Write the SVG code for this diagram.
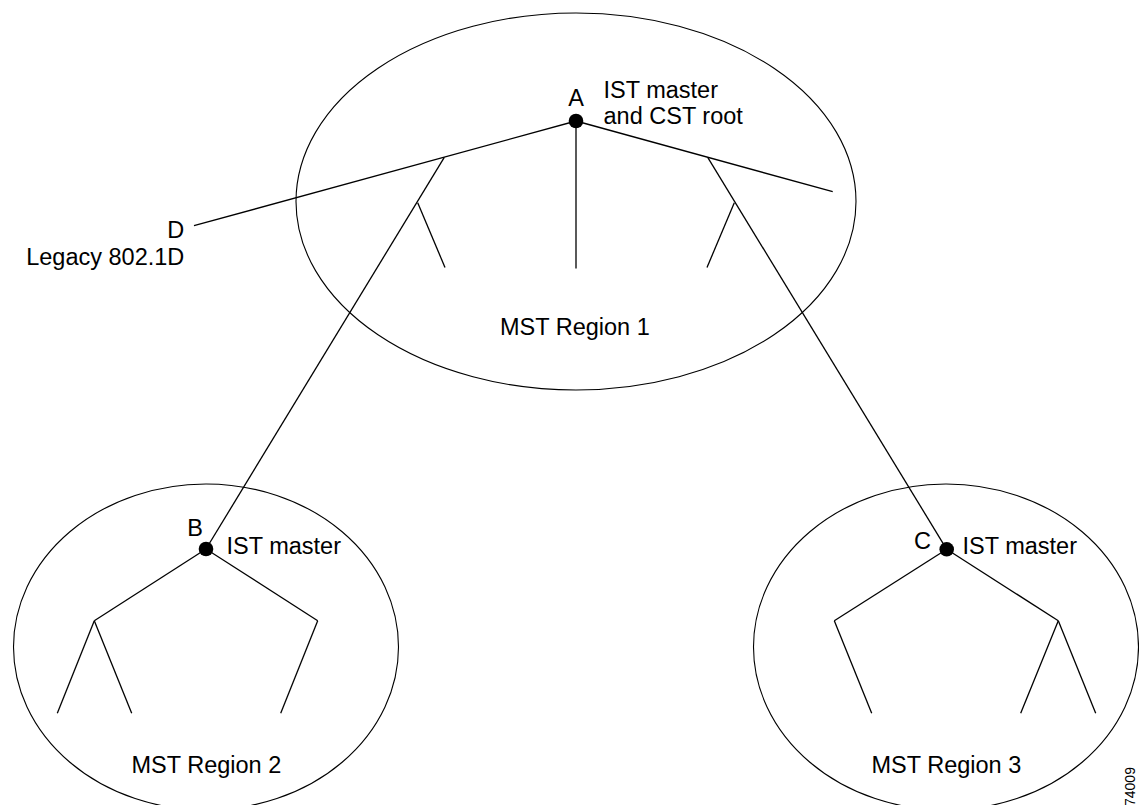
<svg xmlns="http://www.w3.org/2000/svg" width="1139" height="805" viewBox="0 0 1139 805">
<style>
.region{fill:none;stroke:#000;stroke-width:1.1}
.ln{stroke:#000;stroke-width:1.3;fill:none;stroke-linecap:butt}
.dot{fill:#000}
.t{font-family:"Liberation Sans",Arial,sans-serif;font-size:23.5px;fill:#000}
.id{font-family:"Liberation Sans",Arial,sans-serif;font-size:14px;fill:#000}
</style>
<rect width="1139" height="805" fill="#fff"/>
<g id="region1">
<ellipse class="region" cx="576" cy="201.5" rx="280" ry="188.5"/>
<text class="t" x="500" y="335">MST Region 1</text>
</g>
<g id="region2">
<ellipse class="region" cx="206" cy="647" rx="192.5" ry="163"/>
<text class="t" x="131.5" y="772.5">MST Region 2</text>
</g>
<g id="region3">
<ellipse class="region" cx="946" cy="647" rx="192.5" ry="163"/>
<text class="t" x="871.5" y="772.5">MST Region 3</text>
</g>
<g id="connectors">
<line class="ln" x1="576" y1="121" x2="194" y2="225.7"/>
<line class="ln" x1="576" y1="121" x2="832.7" y2="191.7"/>
<line class="ln" x1="576" y1="121" x2="576" y2="268.5"/>
<line class="ln" x1="444.3" y1="157.3" x2="206" y2="549"/>
<line class="ln" x1="417.7" y1="202.7" x2="445" y2="267.5"/>
<line class="ln" x1="707.7" y1="157.3" x2="946.7" y2="549.3"/>
<line class="ln" x1="734.3" y1="202.7" x2="707" y2="267.5"/>
<line class="ln" x1="206" y1="549" x2="94.3" y2="620.7"/>
<line class="ln" x1="206" y1="549" x2="317.7" y2="620.7"/>
<line class="ln" x1="94.3" y1="620.7" x2="57.3" y2="713.3"/>
<line class="ln" x1="94.3" y1="620.7" x2="131.7" y2="713.3"/>
<line class="ln" x1="317.7" y1="620.7" x2="280.7" y2="713.3"/>
<line class="ln" x1="946.7" y1="549.3" x2="834.3" y2="620.7"/>
<line class="ln" x1="946.7" y1="549.3" x2="1058.3" y2="620.7"/>
<line class="ln" x1="834.3" y1="620.7" x2="871.7" y2="713.3"/>
<line class="ln" x1="1058.3" y1="620.7" x2="1020.7" y2="713.3"/>
<line class="ln" x1="1058.3" y1="620.7" x2="1095.7" y2="713.3"/>
</g>
<g id="node-A">
<circle class="dot" cx="576" cy="121" r="7.3"/>
<text class="t" x="576" y="105.5" text-anchor="middle">A</text>
<text class="t" x="603.5" y="97.5">IST master</text>
<text class="t" x="603.5" y="124">and CST root</text>
</g>
<g id="node-B">
<circle class="dot" cx="206" cy="549" r="7.3"/>
<text class="t" x="203" y="536" text-anchor="end">B</text>
<text class="t" x="226.5" y="554">IST master</text>
</g>
<g id="node-C">
<circle class="dot" cx="946.7" cy="549.3" r="7.3"/>
<text class="t" x="931" y="549.3" text-anchor="end">C</text>
<text class="t" x="962.5" y="554.3">IST master</text>
</g>
<g id="node-D">
<text class="t" x="184.3" y="238.3" text-anchor="end">D</text>
<text class="t" x="184.3" y="265" text-anchor="end">Legacy 802.1D</text>
</g>
<text class="id" transform="translate(1135,806) rotate(-90)">74009</text>
</svg>
